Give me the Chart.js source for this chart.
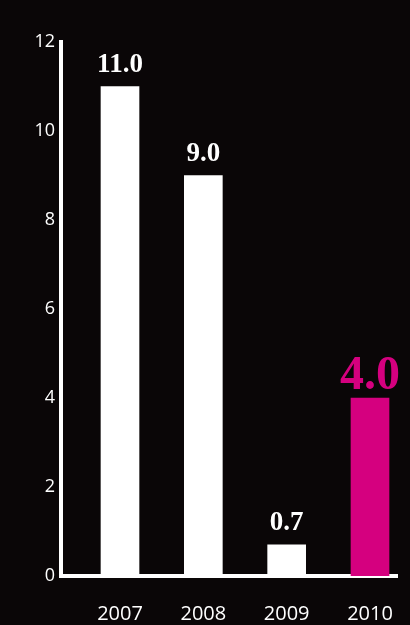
<!DOCTYPE html>
<html>
<head>
<meta charset="utf-8">
<script src="https://cdn.jsdelivr.net/npm/chart.js@4/dist/chart.umd.min.js"></script>
<style>
  html, body { margin: 0; padding: 0; background: #0a0607; }
  #wrap { width: 410px; height: 625px; position: relative; }
</style>
</head>
<body>
<div id="wrap"><canvas id="chart"></canvas></div>
<script>
// Chart data
const years = ['2007', '2008', '2009', '2010']
const values = [11.0, 9.0, 0.7, 4.0]
const yTicks = [0, 2, 4, 6, 8, 10, 12]
const highlightIndex = 3

const WHITE = '#ffffff'
const MAGENTA = '#d5007f'

// Value labels above each bar
const valueLabels = {
  id: 'valueLabels',
  afterDatasetsDraw(chart) {
    const { ctx } = chart
    const meta = chart.getDatasetMeta(0)
    ctx.save()
    ctx.textAlign = 'center'
    ctx.textBaseline = 'alphabetic'
    meta.data.forEach((bar, i) => {
      const hi = i === highlightIndex
      ctx.fillStyle = hi ? MAGENTA : WHITE
      ctx.font = `bold ${hi ? 48 : 27}px "Liberation Serif", "DejaVu Serif", serif`
      ctx.fillText(values[i].toFixed(1), bar.x, bar.y - (hi ? 9 : 15))
    })
    ctx.restore()
  }
}

new Chart(document.getElementById('chart'), {
  type: 'bar',
  data: {
    datasets: [
      {
        data: years.map((_, i) => ({ x: i, y: values[i] })),
        backgroundColor: years.map((_, i) => (i === highlightIndex ? MAGENTA : WHITE)),
        borderWidth: 0,
        barThickness: 38
      }
    ]
  },
  options: {
    responsive: true,
    maintainAspectRatio: false,
    animation: false,
    layout: { padding: { top: 42, right: 13, left: 0, bottom: 0 } },
    plugins: {
      legend: { display: false },
      tooltip: { enabled: false }
    },
    scales: {
      x: {
        type: 'linear',
        min: -0.708,
        max: 3.324,
        offset: false,
        z: 1,
        afterFit: (scale) => {
          scale.height = 49
          scale.paddingLeft = 0
          scale.paddingRight = 0
        },
        afterBuildTicks: (scale) => { scale.ticks = years.map((_, i) => ({ value: i })) },
        grid: { display: false, drawTicks: false, offset: false },
        border: { display: true, color: WHITE, width: 4 },
        ticks: {
          autoSkip: false,
          maxRotation: 0,
          padding: 26,
          color: WHITE,
          font: { family: '"Open Sans", sans-serif', size: 20 },
          callback: (v) => years[v] ?? ''
        }
      },
      y: {
        min: 0,
        max: 12,
        z: 1,
        afterFit: (scale) => { scale.width = 61 },
        afterBuildTicks: (scale) => { scale.ticks = yTicks.map((v) => ({ value: v })) },
        grid: { display: false, drawTicks: false },
        border: { display: true, color: WHITE, width: 4 },
        ticks: {
          padding: 6,
          color: WHITE,
          font: { family: '"Open Sans", sans-serif', size: 18 }
        }
      }
    }
  },
  plugins: [valueLabels]
})
</script>
</body>
</html>
